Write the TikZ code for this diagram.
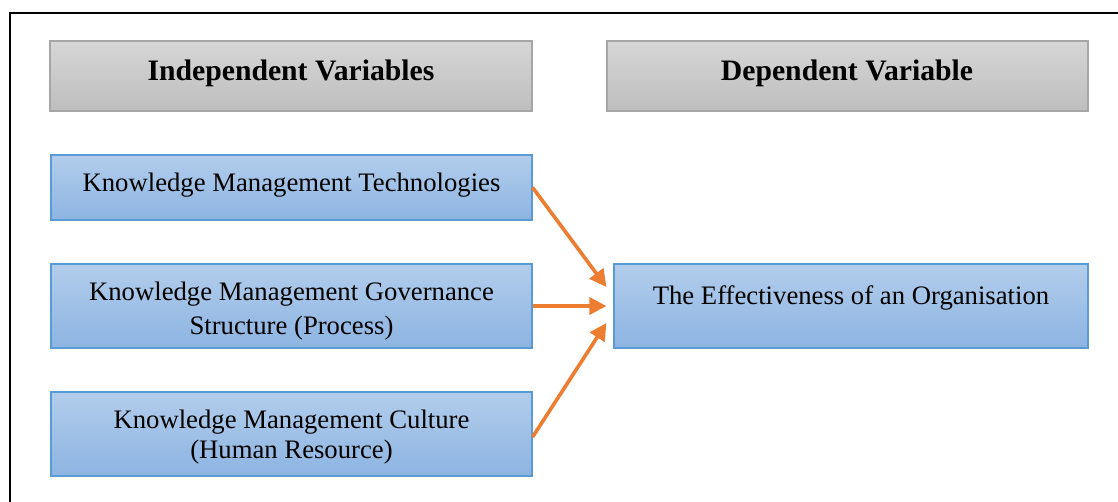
\documentclass[tikz,border=0pt]{standalone}
\usepackage{fontspec}
\setmainfont{Liberation Serif}
\usetikzlibrary{arrows.meta}
\definecolor{hdrtop}{HTML}{D6D6D6}
\definecolor{hdrbot}{HTML}{BEBEBE}
\definecolor{hdrline}{HTML}{A6A6A6}
\definecolor{bluetop}{HTML}{B2CDEB}
\definecolor{bluebot}{HTML}{8DB4E2}
\definecolor{blueline}{HTML}{5B9BD5}
\definecolor{arroworange}{HTML}{ED7D31}
\tikzset{
  hdrbox/.style={draw=hdrline, line width=1.2pt, top color=hdrtop, bottom color=hdrbot},
  varbox/.style={draw=blueline, line width=1.2pt, top color=bluetop, bottom color=bluebot},
  hdrtext/.style={font=\fontsize{29.7}{34}\selectfont\bfseries, inner sep=0pt},
  vartext/.style={font=\fontsize{26.7}{34}\selectfont, inner sep=0pt, align=center},
  link/.style={draw=arroworange, line width=3.6pt, -{Triangle[length=17pt,width=17pt]}}
}
\begin{document}
\begin{tikzpicture}[x=1pt,y=-1pt]
\useasboundingbox (0,0) rectangle (1118,502);
\clip (0,0) rectangle (1118,502);
\fill[white] (0,0) rectangle (1118,502);
\draw[black, line width=2.6pt] (10,13) rectangle (1130,520);
% headers
\path[hdrbox] (50,41) rectangle (532,111);
\path[hdrbox] (607,41) rectangle (1088,111);
\node[hdrtext] (h1) at (291,73) {Independent Variables};
\node[hdrtext] (h2) at (847,73) {Dependent Variable};
% variable boxes
\node[varbox, minimum width=481pt, minimum height=65pt, inner sep=0pt] (b1) at (291.5,187.5) {};
\node[varbox, minimum width=481pt, minimum height=84pt, inner sep=0pt] (b2) at (291.5,306) {};
\node[varbox, minimum width=481pt, minimum height=84pt, inner sep=0pt] (b3) at (291.5,434) {};
\node[varbox, minimum width=474pt, minimum height=84pt, inner sep=0pt] (b4) at (851,306) {};
\node[vartext] (t1) at (291.5,185.5) {Knowledge Management Technologies};
\node[vartext] (t2) at (291.5,311.5) {Knowledge Management Governance\\Structure (Process)};
\node[vartext, font=\fontsize{26.7}{30}\selectfont] (t3) at (291.5,437.5) {Knowledge Management Culture\\(Human Resource)};
\node[vartext] (t4) at (851,297.5) {The Effectiveness of an Organisation};
% connectors
\draw[link] (b1.east) -- ([xshift=-7pt,yshift=19pt]b4.west);
\draw[link] (b2.east) -- ([xshift=-7pt]b4.west);
\draw[link] ([yshift=-3pt]b3.east) -- ([xshift=-7pt,yshift=-17pt]b4.west);
\end{tikzpicture}
\end{document}
